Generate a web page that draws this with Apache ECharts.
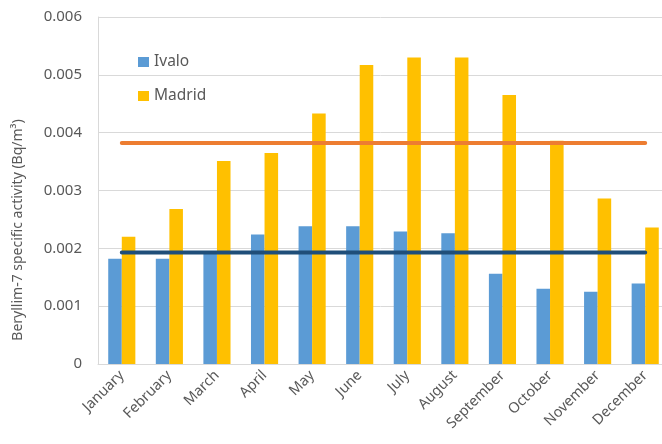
<!DOCTYPE html>
<html>
<head>
<meta charset="utf-8">
<script src="https://cdn.jsdelivr.net/npm/echarts@6/dist/echarts.min.js"></script>
<style>
html,body{margin:0;padding:0;background:#fff;}
#chart{width:662px;height:444px;}
</style>
</head>
<body>
<div id="chart"></div>
<script>
var months = ['January','February','March','April','May','June','July','August','September','October','November','December'];
var ivalo = [0.00182,0.00182,0.00192,0.00224,0.00238,0.00238,0.00229,0.00226,0.00156,0.00130,0.00125,0.00139];
var madrid = [0.00220,0.00268,0.00351,0.00365,0.00433,0.00517,0.00530,0.00530,0.00465,0.00386,0.00286,0.00236];
var madridMean = 0.00382;
var ivaloMean = 0.00193;
var yTicks = [0,0.001,0.002,0.003,0.004,0.005,0.006];
var yTitle = 'Beryllim-7 specific activity (Bq/m³)';

var font = 'Noto Sans';
var chart = echarts.init(document.getElementById('chart'));
chart.setOption({
  animation:false,
  textStyle:{fontFamily:font},
  grid:{left:98,right:-7,top:17,bottom:80,containLabel:false,outerBoundsMode:'none'},
  legend:{
    data:['Ivalo','Madrid'],
    orient:'vertical',
    left:133, top:49,
    itemWidth:11, itemHeight:10, itemGap:18,
    icon:'rect',
    textStyle:{fontSize:15.5,color:'#595959',fontFamily:font}
  },
  graphic:[{
    type:'text',
    x:18, y:230,
    rotation:Math.PI/2,
    style:{text:yTitle, fontSize:14, fontFamily:font, fill:'#595959', align:'center', verticalAlign:'middle'}
  }],
  xAxis:{
    type:'category',
    data:months,
    axisLine:{show:true,lineStyle:{color:'#d9d9d9',width:1}},
    axisTick:{show:false},
    axisLabel:{rotate:45,fontSize:14.5,color:'#595959',margin:9,interval:0}
  },
  yAxis:{
    type:'value',
    min:yTicks[0], max:yTicks[yTicks.length-1], interval:0.001,
    axisLine:{show:true,lineStyle:{color:'#d9d9d9'}},
    axisTick:{show:false},
    splitLine:{lineStyle:{color:'#d9d9d9',width:1}},
    axisLabel:{fontSize:15,color:'#595959',margin:16,formatter:function(v){return v===0?'0':v.toFixed(3);}}
  },
  series:[
    {name:'Ivalo',type:'bar',data:ivalo,barGap:'0%',barCategoryGap:'43%',itemStyle:{color:'#5B9BD5'}},
    {name:'Madrid',type:'bar',data:madrid,barGap:'0%',barCategoryGap:'43%',itemStyle:{color:'#FFC000'}},
    {name:'Madrid mean',type:'line',data:months.map(function(){return madridMean;}),symbol:'none',lineStyle:{color:'#ED7D31',width:4,cap:'round'},z:5},
    {name:'Ivalo mean',type:'line',data:months.map(function(){return ivaloMean;}),symbol:'none',lineStyle:{color:'#1F4E79',width:4,cap:'round'},z:5}
  ]
});
</script>
</body>
</html>
